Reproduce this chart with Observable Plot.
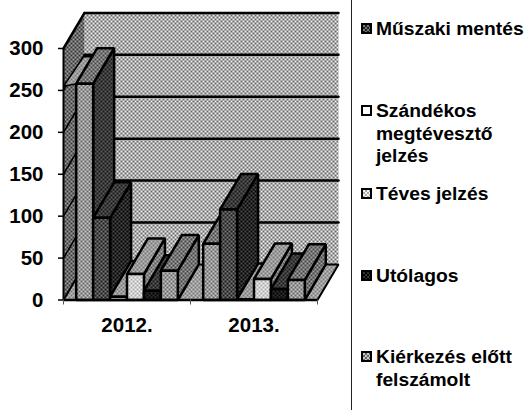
<!DOCTYPE html>
<html lang="hu">
<head>
<meta charset="utf-8">
<script src="https://cdn.jsdelivr.net/npm/d3@7"></script>
<script src="https://cdn.jsdelivr.net/npm/@observablehq/plot@0.6"></script>
<style>
html,body{margin:0;padding:0;background:#fff}
#wrap{position:relative;width:532px;height:412px;overflow:hidden;font-family:"Liberation Sans",Arial,sans-serif;color:#000}
#chart{position:absolute;left:0;top:0}
#divider{position:absolute;left:351px;top:0;height:410px;border-left:1px solid #222}
.lg{position:absolute;left:376px;font-weight:bold;font-size:19.25px;line-height:22.7px;white-space:pre}
.sw{position:absolute;left:-15px;top:5px;width:7px;height:7px;border:2.5px solid #000}
</style>
</head>
<body>
<div id="wrap"><div id="chart"></div><div id="divider"></div></div>
<script>
const years = ["2012.", "2013."];
const yTicks = [0, 50, 100, 150, 200, 250, 300];
const gridValues = [50, 100, 150, 200, 250, 300];
const barValues2012 = [258, 98, 4, 31, 11, 35];
const barValues2013 = [67, 108, 1, 25, 13, 24];
const legendNames = ["Műszaki mentés", "Szándékos\nmegtévesztő\njelzés", "Téves jelzés", "Utólagos", "Kiérkezés előtt\nfelszámolt"];
const legendTops = [18, 100, 183, 265, 346];

// halftone textures: [id, dark dots, light dots]
const textures = [
  ["wall", "#6a6a6a", "#eeeeee"],
  ["side", "#333", "#a0a0a0"],
  ["floor", "#777", "#c4c4c4"],
  ["midF", "#666", "#c8c8c8"],
  ["midT", "#444", "#a4a4a4"],
  ["midS", "#444", "#a0a0a0"],
  ["darkF", "#1c1c1c", "#777"],
  ["darkT", "#1a1a1a", "#5a5a5a"],
  ["darkS", "#000", "#4c4c4c"],
  ["lightF", "#aaa", "#f2f2f2"],
  ["lightT", "#777", "#bdbdbd"],
  ["lightS", "#555", "#b0b0b0"],
  ["blackF", "#000", "#333"],
  ["whiteF", "#fff", "#fff"]
];
// per series: front, top, side texture
const seriesLooks = [
  ["midF", "midT", "darkT"],
  ["darkF", "darkT", "darkS"],
  ["whiteF", "lightT", "lightS"],
  ["lightF", "lightT", "lightS"],
  ["blackF", "darkT", "darkS"],
  ["midF", "midT", "midS"]
];
const legendLooks = ["darkF", "whiteF", "lightF", "blackF", "midF"];

// depth of the 3-D box, in data units
const depthX = 21 / 127, depthY = 42.4;
const barW = 0.8 / 6, gap = 0.1;

const pt = (x, y) => ({x, y});
const poly = (pts, fill, sw = 2.5) => Plot.line(pts, {
  x: "x", y: "y", fill: `url(#${fill})`, stroke: "#000", strokeWidth: sw,
  curve: "linear-closed", strokeLinejoin: "miter"
});

const marks = [];
// back wall, left wall, floor
marks.push(poly([pt(depthX, depthY), pt(2 + depthX, depthY), pt(2 + depthX, 300 + depthY), pt(depthX, 300 + depthY)], "wall", 0));
marks.push(poly([pt(0, 0), pt(depthX, depthY), pt(depthX, 300 + depthY), pt(0, 300)], "side", 0));
marks.push(poly([pt(0, 0), pt(depthX, depthY), pt(2 + depthX, depthY), pt(2, 0)], "floor", 2));
// gridlines: thin on the left wall, heavy on the back wall
gridValues.forEach(v => {
  marks.push(Plot.line([pt(0, v), pt(depthX, v + depthY)], {x: "x", y: "y", stroke: "#000", strokeWidth: v === 300 ? 2.5 : 1.5}));
  marks.push(Plot.line([pt(depthX, v + depthY), pt(2 + depthX, v + depthY)], {x: "x", y: "y", stroke: "#000", strokeWidth: 2.5}));
});
// pale strip on the left wall near 250
marks.push(poly([pt(0, 255), pt(depthX * 0.95, 255 + depthY * 0.83), pt(0.225, 255 + depthY * 0.83), pt(0.1, 258)], "lightT", 1.5));
// bars, left to right
[barValues2012, barValues2013].forEach((vals, g) => {
  vals.forEach((v, i) => {
    const x0 = g + gap + i * barW, x1 = x0 + barW;
    const [front, top, side] = seriesLooks[i];
    marks.push(poly([pt(x1, 0), pt(x1 + depthX, depthY), pt(x1 + depthX, v + depthY), pt(x1, v)], side));
    marks.push(poly([pt(x0, v), pt(x0 + depthX, v + depthY), pt(x1 + depthX, v + depthY), pt(x1, v)], top));
    marks.push(poly([pt(x0, 0), pt(x0, v), pt(x1, v), pt(x1, 0)], front));
  });
});
// axes
marks.push(Plot.ruleX([0], {y1: 0, y2: 300, stroke: "#000", strokeWidth: 2}));
marks.push(Plot.ruleY([0], {x1: 0, x2: 2, stroke: "#000", strokeWidth: 2.5}));
marks.push(Plot.axisY({ticks: yTicks, tickSize: 5, tickPadding: 15, fontSize: 20.5, fontWeight: "bold", stroke: "#000", fill: "#000", label: null, strokeWidth: 1.5}));
marks.push(Plot.axisX({ticks: [0, 1, 2], tickSize: 5, tickFormat: () => "", stroke: "#555", label: null}));
marks.push(Plot.axisX({ticks: [0.5, 1.5], tickSize: 0, tickPadding: 17, tickFormat: d => years[Math.floor(d)], fontSize: 20.5, fontWeight: "bold", fill: "#000", label: null}));

const svg = Plot.plot({
  width: 351, height: 412,
  marginLeft: 63, marginRight: 34, marginTop: 48, marginBottom: 112.5,
  style: {fontFamily: '"Liberation Sans", Arial, sans-serif', background: "#fff", overflow: "visible"},
  x: {domain: [0, 2]},
  y: {domain: [0, 300]},
  marks
});

// textures
const ns = "http://www.w3.org/2000/svg";
const defs = document.createElementNS(ns, "defs");
textures.forEach(([id, a, b]) => {
  const p = document.createElementNS(ns, "pattern");
  p.setAttribute("id", id);
  p.setAttribute("patternUnits", "userSpaceOnUse");
  p.setAttribute("width", 4); p.setAttribute("height", 4);
  [[0, 0, 4, 4, b], [0, 0, 2, 2, a], [2, 2, 2, 2, a]].forEach(([x, y, w, h, f]) => {
    const r = document.createElementNS(ns, "rect");
    r.setAttribute("x", x); r.setAttribute("y", y);
    r.setAttribute("width", w); r.setAttribute("height", h);
    r.setAttribute("fill", f);
    p.appendChild(r);
  });
  defs.appendChild(p);
});
svg.insertBefore(defs, svg.firstChild);
document.getElementById("chart").appendChild(svg);

// legend
const texOf = id => textures.find(t => t[0] === id);
const wrap = document.getElementById("wrap");
legendNames.forEach((name, i) => {
  const d = document.createElement("div");
  d.className = "lg";
  d.style.top = legendTops[i] + "px";
  d.textContent = name;
  const s = document.createElement("span");
  s.className = "sw";
  const [, a, b] = texOf(legendLooks[i]);
  s.style.background = `repeating-conic-gradient(${a} 0 25%, ${b} 0 50%) 0 0 / 4px 4px`;
  d.appendChild(s);
  wrap.appendChild(d);
});
</script>
</body>
</html>
